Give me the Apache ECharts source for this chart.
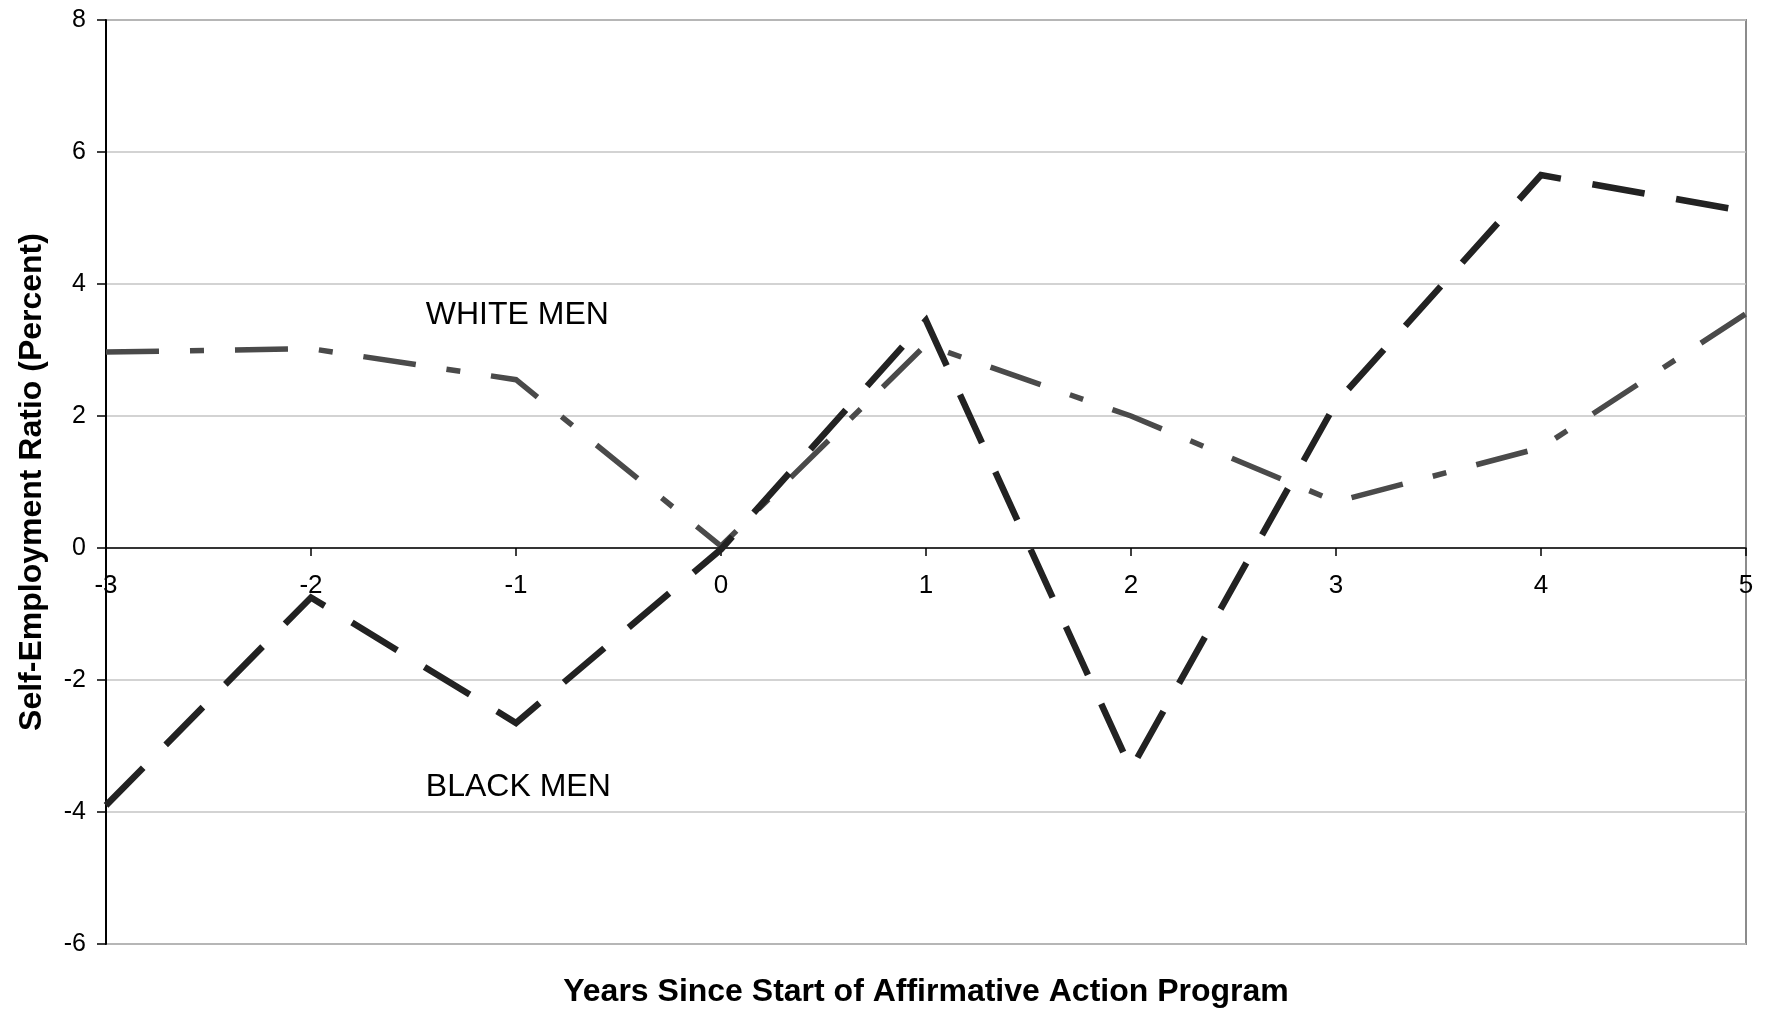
<!DOCTYPE html>
<html>
<head>
<meta charset="utf-8">
<title>Self-Employment Ratio</title>
<script src="https://cdn.jsdelivr.net/npm/echarts@6/dist/echarts.min.js"></script>
<style>
  html, body { margin: 0; padding: 0; background: #ffffff; }
  #chart { width: 1771px; height: 1012px; }
</style>
</head>
<body>
<div id="chart"></div>
<script>
// Years relative to the start of the affirmative action program
const years = [-3, -2, -1, 0, 1, 2, 3, 4, 5];
// Self-employment ratio, percent
const blackMen = [-3.9, -0.75, -2.65, -0.02, 3.45, -3.35, 2.2, 5.65, 5.1];
const whiteMen = [2.97, 3.02, 2.55, 0.03, 3.08, 2.0, 0.7, 1.52, 3.55];
// Series labels placed inside the plot, in data coordinates
const whiteLabelPos = [-1.44, 3.53];
const blackLabelPos = [-1.44, -3.62];

const FONT = '"Liberation Sans", Arial, Helvetica, sans-serif';

const Y_MIN = -6, Y_MAX = 8;
const GRID = { left: 106, right: 25, top: 20, bottom: 68 };
const CHART_H = 1012;

const pairs = (ys) => years.map((x, i) => [x, ys[i]]);

// The year axis runs along the zero line, labels included
const plotH = CHART_H - GRID.top - GRID.bottom;
const zeroOffset = -((0 - Y_MIN) / (Y_MAX - Y_MIN)) * plotH;

const chart = echarts.init(document.getElementById('chart'), null, { renderer: 'canvas' });

function labelPoint(name, coord) {
  return {
    symbol: 'circle',
    symbolSize: 0,
    silent: true,
    data: [{ name: name, coord: coord }],
    label: {
      show: true,
      position: 'right',
      distance: 0,
      formatter: '{b}',
      color: '#000',
      fontFamily: FONT,
      fontSize: 32
    }
  };
}

chart.setOption({
  animation: false,
  backgroundColor: '#ffffff',
  grid: Object.assign({
    show: true,
    borderColor: '#8c8c8c',
    borderWidth: 2,
    backgroundColor: 'transparent'
  }, GRID),
  xAxis: {
    type: 'value',
    min: -3,
    max: 5,
    interval: 1,
    position: 'bottom',
    offset: zeroOffset,
    axisLine: { show: true, onZero: false, lineStyle: { color: '#000', width: 1.5 } },
    axisTick: { show: true, inside: false, length: 8, lineStyle: { color: '#000', width: 1.5 } },
    axisLabel: { color: '#000', fontFamily: FONT, fontSize: 26, margin: 25, showMinLabel: true, showMaxLabel: true },
    splitLine: { show: false }
  },
  yAxis: {
    type: 'value',
    min: Y_MIN,
    max: Y_MAX,
    interval: 2,
    name: 'Self-Employment Ratio (Percent)',
    nameLocation: 'middle',
    nameGap: 58,
    nameTextStyle: { color: '#000', fontFamily: FONT, fontSize: 32, fontWeight: 'bold' },
    axisLine: { show: true, onZero: false, lineStyle: { color: '#000', width: 2 } },
    axisTick: { show: true, length: 9, lineStyle: { color: '#000', width: 1.5 } },
    axisLabel: { color: '#000', fontFamily: FONT, fontSize: 25, margin: 20 },
    splitLine: { show: true, lineStyle: { color: '#c4c4c4', width: 1.5 } }
  },
  graphic: [{
    type: 'text',
    x: 926,
    y: 992,
    style: {
      text: 'Years Since Start of Affirmative Action Program',
      fill: '#000',
      font: 'bold 32px ' + FONT,
      textAlign: 'center',
      textVerticalAlign: 'middle'
    }
  }],
  series: [
    {
      name: 'WHITE MEN',
      type: 'line',
      data: pairs(whiteMen),
      showSymbol: false,
      symbol: 'none',
      z: 3,
      lineStyle: { color: '#4a4a4a', width: 5.5, type: [53, 31, 14, 31], cap: 'butt', join: 'miter' },
      markPoint: labelPoint('WHITE MEN', whiteLabelPos)
    },
    {
      name: 'BLACK MEN',
      type: 'line',
      data: pairs(blackMen),
      showSymbol: false,
      symbol: 'none',
      z: 4,
      lineStyle: { color: '#222222', width: 6.5, type: [53, 32], cap: 'butt', join: 'miter' },
      markPoint: labelPoint('BLACK MEN', blackLabelPos)
    }
  ]
});
</script>
</body>
</html>
